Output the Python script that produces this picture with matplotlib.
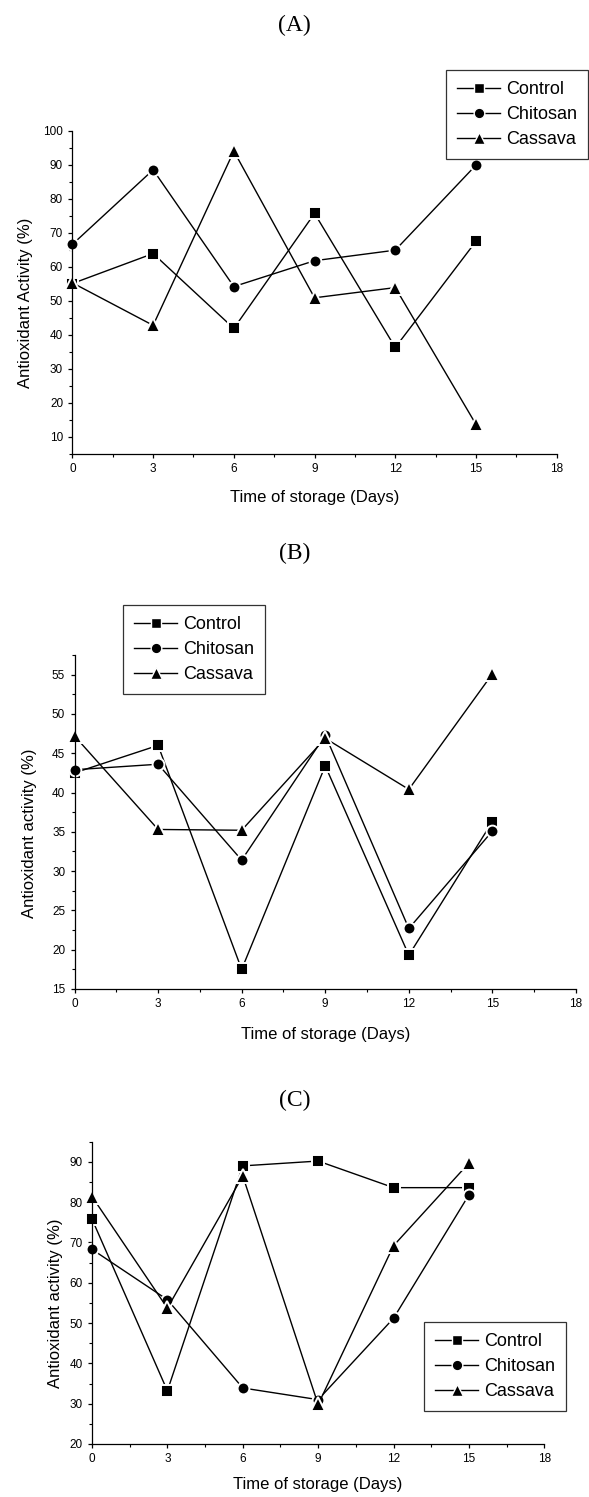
import matplotlib
matplotlib.use("Agg")
import matplotlib.pyplot as plt
from matplotlib.ticker import MultipleLocator

plt.rcParams['font.family'] = ['Liberation Sans', 'DejaVu Sans']

W, H = 589, 1497
DPI = 100

days = [0, 3, 6, 9, 12, 15]
series_names = ["Control", "Chitosan", "Cassava"]

a_control = [55.1, 63.9, 41.9, 75.7, 36.3, 67.5]
a_chitosan = [66.6, 88.5, 54.2, 61.8, 64.9, 89.9]
a_cassava = [55.3, 42.8, 94.0, 50.9, 53.9, 13.7]

b_control = [42.5, 46.0, 17.5, 43.4, 19.3, 36.3]
b_chitosan = [42.9, 43.6, 31.4, 47.3, 22.7, 35.1]
b_cassava = [47.2, 35.3, 35.2, 46.9, 40.4, 55.1]

c_control = [75.8, 33.2, 89.0, 90.2, 83.6, 83.6]
c_chitosan = [68.3, 55.8, 33.9, 31.0, 51.2, 81.8]
c_cassava = [81.4, 53.7, 86.5, 29.8, 69.2, 89.7]

panel_titles = ["(A)", "(B)", "(C)"]
ylabels = ["Antioxidant Activity (%)", "Antioxidant activity (%)", "Antioxidant activity (%)"]
xlabel = "Time of storage (Days)"

fig = plt.figure(figsize=(W / DPI, H / DPI), dpi=DPI)


def fx(px):
    return px / W


def fy(py):
    return 1 - py / H


def make_axes(left, right, top, bottom):
    return fig.add_axes([fx(left), fy(bottom), fx(right) - fx(left), (bottom - top) / H])


markers = ['s', 'o', '^']
msizes = [8.0, 8.5, 9.5]

panels = [
    dict(box=(72.4, 556.7, 130.7, 454), ylim=(5, 100), ymaj=10, ymin=5,
         data=[a_control, a_chitosan, a_cassava],
         title_y=25, ylab=(26, 303), xlab_y=497,
         leg=(446, 70)),
    dict(box=(74.5, 576, 655, 989), ylim=(15, 57.5), ymaj=5, ymin=2.5,
         data=[b_control, b_chitosan, b_cassava],
         title_y=553, ylab=(30, 833), xlab_y=1035,
         leg=(123, 605)),
    dict(box=(92, 544.3, 1141.7, 1444), ylim=(20, 95), ymaj=10, ymin=5,
         data=[c_control, c_chitosan, c_cassava],
         title_y=1100, ylab=(56, 1303), xlab_y=1485,
         leg=(424, 1322)),
]

for i, p in enumerate(panels):
    l, r, t, b = p['box']
    ax = make_axes(l, r, t, b)
    for vals, name, m, ms in zip(p['data'], series_names, markers, msizes):
        ax.plot(days, vals, color='black', lw=1.0, marker=m, ms=ms,
                markerfacecolor='black', markeredgecolor='white',
                markeredgewidth=1.4, label=name, clip_on=False)
    ax.set_xlim(0, 18)
    ax.set_ylim(*p['ylim'])
    ax.xaxis.set_major_locator(MultipleLocator(3))
    ax.xaxis.set_minor_locator(MultipleLocator(1.5))
    ax.yaxis.set_major_locator(MultipleLocator(p['ymaj']))
    ax.yaxis.set_minor_locator(MultipleLocator(p['ymin']))
    for s in ['top', 'right']:
        ax.spines[s].set_visible(False)
    for s in ['left', 'bottom']:
        ax.spines[s].set_linewidth(0.9)
    ax.tick_params(which='major', direction='out', length=3.2, width=0.9,
                   labelsize=8.5, pad=3.5)
    ax.tick_params(which='minor', direction='out', length=2.0, width=0.8)
    fig.text(0.5, fy(p['title_y']), panel_titles[i], ha='center', va='center',
             fontsize=17, family=['Liberation Serif', 'DejaVu Serif'])
    fig.text(fx(p['ylab'][0]), fy(p['ylab'][1]), ylabels[i], rotation=90,
             ha='center', va='center', fontsize=12)
    fig.text(fx((l + r) / 2), fy(p['xlab_y']), xlabel, ha='center', va='center',
             fontsize=12)
    leg = ax.legend(loc='upper left', bbox_to_anchor=(fx(p['leg'][0]), fy(p['leg'][1])),
                    bbox_transform=fig.transFigure, fontsize=13, frameon=True,
                    fancybox=False, shadow=False, handlelength=2.4,
                    handletextpad=0.35, labelspacing=0.45, borderpad=0.6,
                    borderaxespad=0, markerscale=0.9)
    leg.get_frame().set_edgecolor('black')
    leg.get_frame().set_linewidth(0.9)
    for h in leg.legend_handles:
        h.set_markeredgecolor('white')
        h.set_markeredgewidth(1.0)

fig.savefig("out.png", dpi=DPI)
